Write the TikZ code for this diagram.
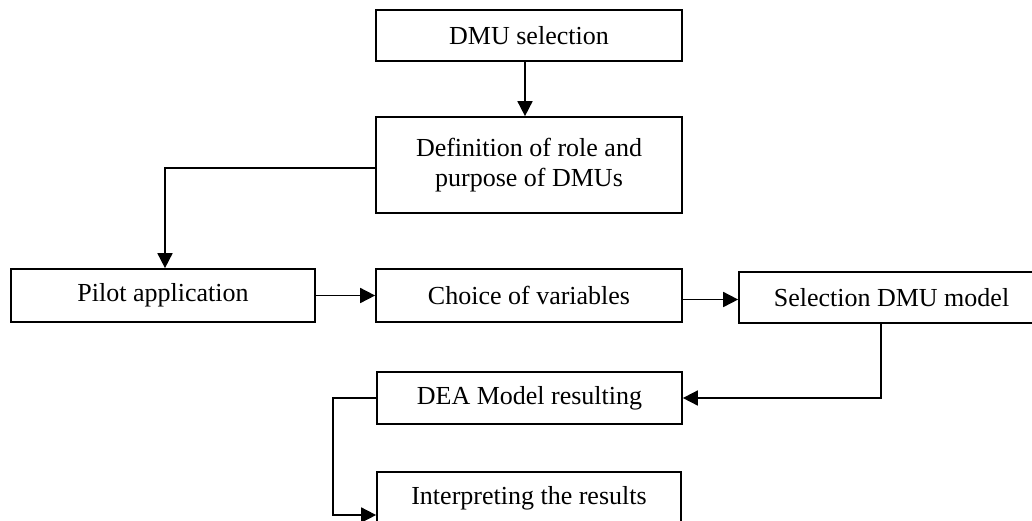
\documentclass[tikz,border=0pt]{standalone}
\usepackage{fontspec}
\setmainfont{Liberation Serif}
\usetikzlibrary{arrows.meta}
\begin{document}
\begin{tikzpicture}[x=1pt,y=-1pt,
  box/.style={draw,line width=1.7pt,inner sep=0pt,align=center,
    font=\fontsize{26}{30}\selectfont},
  conn/.style={line width=1.7pt,-{Triangle[length=15pt,width=15pt]}}]
\clip (0,0) rectangle (1032,520);
\fill[white] (0,0) rectangle (1032,520);
\node[box,minimum width=306pt,minimum height=51pt] (dmu) at (529,35.5) {\raisebox{-3pt}{DMU selection}};
\node[box,minimum width=306pt,minimum height=96pt] (def) at (529,165) {Definition of role and\\purpose of DMUs};
\node[box,minimum width=304pt,minimum height=53pt] (pilot) at (163,295.5) {\raisebox{-3pt}{Pilot application}};
\node[box,minimum width=306pt,minimum height=53pt] (choice) at (529,295.5) {\raisebox{-3pt}{Choice of variables}};
\node[box,minimum width=305pt,minimum height=51pt] (sel) at (891.5,297.5) {\raisebox{-2pt}{Selection DMU model}};
\node[box,minimum width=305pt,minimum height=52pt] (dea) at (529.5,398) {\raisebox{-3pt}{DEA Model resulting}};
\node[box,minimum width=304pt,minimum height=52pt] (interp) at (529,498) {\raisebox{-3pt}{Interpreting the results}};
\draw[conn] ([xshift=-4pt]dmu.south) -- ([xshift=-4pt]def.north);
\draw[conn] ([yshift=-3pt]def.west) -| ([xshift=2pt]pilot.north);
\draw[conn] (pilot.east) -- (choice.west);
\draw[conn] ([yshift=-4pt]choice.east) -- ([yshift=-4pt]choice.east -| sel.west);
\draw[conn] ([xshift=-10.5pt]sel.south) |- (dea.east);
\coordinate (bend) at (333,398);
\draw[conn] (dea.west) -- (bend) |- ([yshift=-17pt]interp.west);
\end{tikzpicture}
\end{document}
